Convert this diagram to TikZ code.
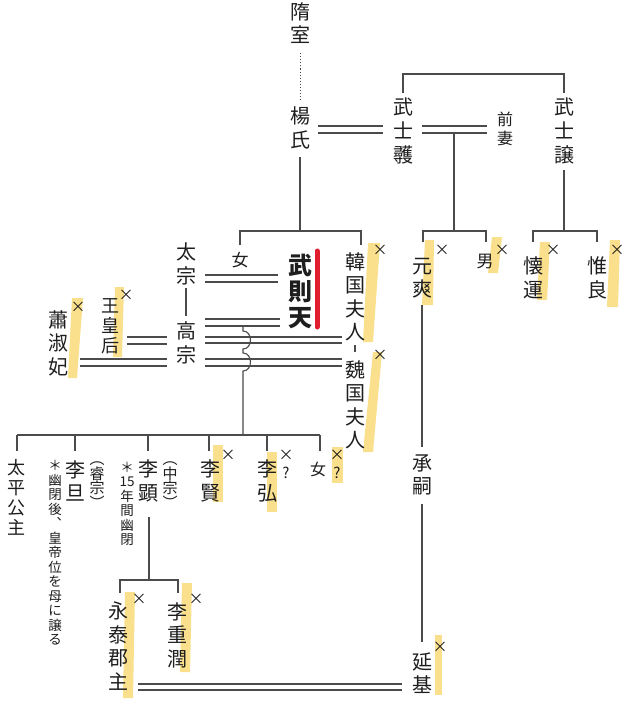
\documentclass[tikz,border=0pt]{standalone}
\usepackage{fontspec}
\newfontfamily\cjk{Noto Sans CJK JP}
\definecolor{lc}{RGB}{75,75,75}
\definecolor{hy}{RGB}{250,224,140}
\definecolor{rb}{RGB}{225,30,45}
\definecolor{tc}{RGB}{30,30,30}
\tikzset{
  ln/.style={draw=lc, line width=1.1pt},
  vt/.style={font=\cjk\fontsize{20}{23.5}\selectfont, align=center, inner sep=0pt, text=tc},
  vm/.style={font=\cjk\fontsize{17}{19}\selectfont, align=center, inner sep=0pt, text=tc},
  vs/.style={font=\cjk\fontsize{13.5}{14.5}\selectfont, align=center, inner sep=0pt, text=tc},
  vp/.style={font=\cjk\fontsize{15}{14.5}\selectfont, align=center, inner sep=0pt, text=tc},
  xm/.style={font=\cjk\fontsize{15}{15}\selectfont, inner sep=0pt, text=tc},
  hl/.style={fill=hy, draw=none},
}
\begin{document}
\begin{tikzpicture}[x=1pt,y=-1pt]
\useasboundingbox[fill=white] (0,0) rectangle (632,714);
% highlights
\fill[hl] (113,357) -- (122,357) -- (124,287) -- (115,287) -- cycle;
\fill[hl] (68,378) -- (77,378) -- (83,298) -- (72,298) -- cycle;
\fill[hl] (363,342) -- (373,342) -- (380,243) -- (368,243) -- cycle;
\fill[hl] (363,452) -- (373,452) -- (382,352) -- (373,352) -- cycle;
\fill[hl] (422,305) -- (433,305) -- (434,240) -- (425,240) -- cycle;
\fill[hl] (488,273) -- (498,273) -- (502,237) -- (492,237) -- cycle;
\fill[hl] (537,300) -- (547,300) -- (550,242) -- (540,242) -- cycle;
\fill[hl] (607,307) -- (618,307) -- (620,240) -- (610,240) -- cycle;
\fill[hl] (213,502) -- (223,502) -- (223,445) -- (213,445) -- cycle;
\fill[hl] (267,512) -- (277,512) -- (277,452) -- (267,452) -- cycle;
\fill[hl] (332,483) -- (343,483) -- (343,447) -- (332,447) -- cycle;
\fill[hl] (123,698) -- (133,698) -- (135,592) -- (125,592) -- cycle;
\fill[hl] (180,672) -- (190,672) -- (192,583) -- (182,583) -- cycle;
\fill[hl] (435,695) -- (442,695) -- (442,635) -- (435,635) -- cycle;
% red bar
\draw[rb, line width=5pt, line cap=round] (317,251) -- (317,327);

% nodes
\node[vt] (sui) at (300,23) {隋\\室};
\node[vt] (yang) at (300,128) {楊\\氏};
\node[vt, font=\cjk\fontsize{20}{24}\selectfont] (shikaku) at (403,131) {武\\士\\彠};
\node[vm, font=\cjk\fontsize{16}{19}\selectfont] (zensai) at (505,129) {前\\妻};
\node[vt, font=\cjk\fontsize{20}{24}\selectfont] (shijo) at (564,131) {武\\士\\譲};
\node[vm] (onna1) at (240,260) {女};
\node[vt, font=\cjk\bfseries\fontsize{24}{26}\selectfont] (wu) at (300,291) {武\\則\\天};
\node[vt] (kan) at (355,297) {韓\\国\\夫\\人};
\node[vt] (gi) at (355,405) {魏\\国\\夫\\人};
\node[vt] (gensou) at (422,278) {元\\爽};
\node[vm] (otoko) at (485,261) {男};
\node[vt] (kaiun) at (533,278) {懐\\運};
\node[vt] (iryo) at (597,278) {惟\\良};
\node[vt] (taiso) at (186,264) {太\\宗};
\node[vt] (koso) at (186,343) {高\\宗};
\node[vt, font=\cjk\fontsize{18}{20}\selectfont] (ohk) at (110,326) {王\\皇\\后};
\node[vt] (shuku) at (58,343) {蕭\\淑\\妃};
\node[vt, font=\cjk\fontsize{18}{20}\selectfont] (taihei) at (17,497) {太\\平\\公\\主};
\node[vt] (ritan) at (75,481) {李\\旦};
\node[vp] (eiso) at (97,485) {︵\\睿\\宗\\︶};
\node[vs] (note1) at (55,553) {＊\\幽\\閉\\後\\︑\\皇\\帝\\位\\を\\母\\に\\譲\\る};
\node[vt] (riken) at (148,481) {李\\顕};
\node[vp] (chuso) at (170,485) {︵\\中\\宗\\︶};
\node[vs] (note2) at (127,504) {＊\\15\\年\\間\\幽\\閉};
\node[vt] (rikenb) at (210,481) {李\\賢};
\node[vt] (riko) at (267,481) {李\\弘};
\node[vm, font=\cjk\fontsize{16}{18}\selectfont] (onna2) at (318,469) {女};
\node[vt] (shoshi) at (422,475) {承\\嗣};
\node[vt] (enki) at (422,673) {延\\基};
\node[vt] (eitai) at (118,646) {永\\泰\\郡\\主};
\node[vt] (rijun) at (177,635) {李\\重\\潤};

% death marks
\node[xm] (x1) at (126,295) {×};
\node[xm] (x2) at (78,307) {×};
\node[xm] (x3) at (380,250) {×};
\node[xm] (x4) at (380,355) {×};
\node[xm] (x5) at (442,250) {×};
\node[xm] (x6) at (502,250) {×};
\node[xm] (x7) at (553,250) {×};
\node[xm] (x8) at (617,250) {×};
\node[xm] (x9) at (228,455) {×};
\node[xm] (x10) at (286,455) {×};
\node[xm] (q10) at (286,473) {?};
\node[xm] (x11) at (337,455) {×};
\node[xm] (q11) at (337,473) {?};
\node[xm] (x12) at (139,599) {×};
\node[xm] (x13) at (196,599) {×};
\node[xm] (x14) at (440,647) {×};

% coordinates
\coordinate (topL) at (403,74);
\coordinate (topR) at (564,74);
\coordinate (sib1) at (240,231);
\coordinate (sib2) at (361,231);
\coordinate (jv) at (300,231);
\coordinate (mA) at (454,130);
\coordinate (cA) at (454,231);
\coordinate (cAL) at (423,231);
\coordinate (cAR) at (486,231);
\coordinate (cBL) at (533,231);
\coordinate (cBR) at (597,231);
\coordinate (cB) at (564,231);
\coordinate (kidsL) at (17,435);
\coordinate (kidsR) at (320,435);
\coordinate (kidsM) at (243,435);
\coordinate (gL) at (120,580);
\coordinate (gR) at (178,580);
\coordinate (gM) at (149,580);

% lines
\draw[ln, dotted, line width=1pt] (300,53) -- (300,100);
\draw[ln] (topL) ++(0,19) -- (topL) -- (topR) -- ++(0,19);
\draw[ln] (318,126) -- (383,126) (318,133) -- (383,133);
\draw[ln] (422,126) -- (487,126) (422,133) -- (487,133);
\draw[ln] (mA) ++(0,3) -- (cA);
\draw[ln] (cAL) ++(0,11) -- (cAL) -- (cAR) -- ++(0,11);
\draw[ln] (564,170) -- (cB);
\draw[ln] (cBL) ++(0,11) -- (cBL) -- (cBR) -- ++(0,11);
\draw[ln] (300,157) -- (jv);
\draw[ln] (sib1) ++(0,14) -- (sib1) -- (sib2) -- ++(0,14);
% Taizong - Gaozong
\draw[ln] (186,288) -- (186,316);
\draw[ln] (205,275) -- (278,275) (205,282) -- (278,282);
\draw[ln] (205,319) -- (280,319) (205,326) -- (280,326);
\draw[ln] (205,337) -- (342,337) (205,343) -- (342,343);
\draw[ln] (205,359) -- (342,359) (205,366) -- (342,366);
\draw[ln] (127,337) -- (167,337) (127,344) -- (167,344);
\draw[ln] (80,359) -- (167,359) (80,366) -- (167,366);
\draw[ln] (355,345) -- (355,352);
% descent line with hops
\draw[ln] (243,326) -- (243,331) .. controls (253,331) and (253,349) .. (243,349)
  -- (243,353) .. controls (253,353) and (253,371) .. (243,371) -- (kidsM);
\draw[ln] (kidsL) -- (kidsR);
\foreach \x in {17,75,148,209,267,320} \draw[ln] (\x,435) -- (\x,451);
% Li Xian descendants
\draw[ln] (149,517) -- (gM);
\draw[ln] (gL) ++(0,13) -- (gL) -- (gR) -- ++(0,13);
% Wu line
\draw[ln] (422,305) -- (422,447);
\draw[ln] (422,504) -- (422,642);
\draw[ln] (138,684) -- (402,684) (138,690) -- (402,690);
\end{tikzpicture}
\end{document}
